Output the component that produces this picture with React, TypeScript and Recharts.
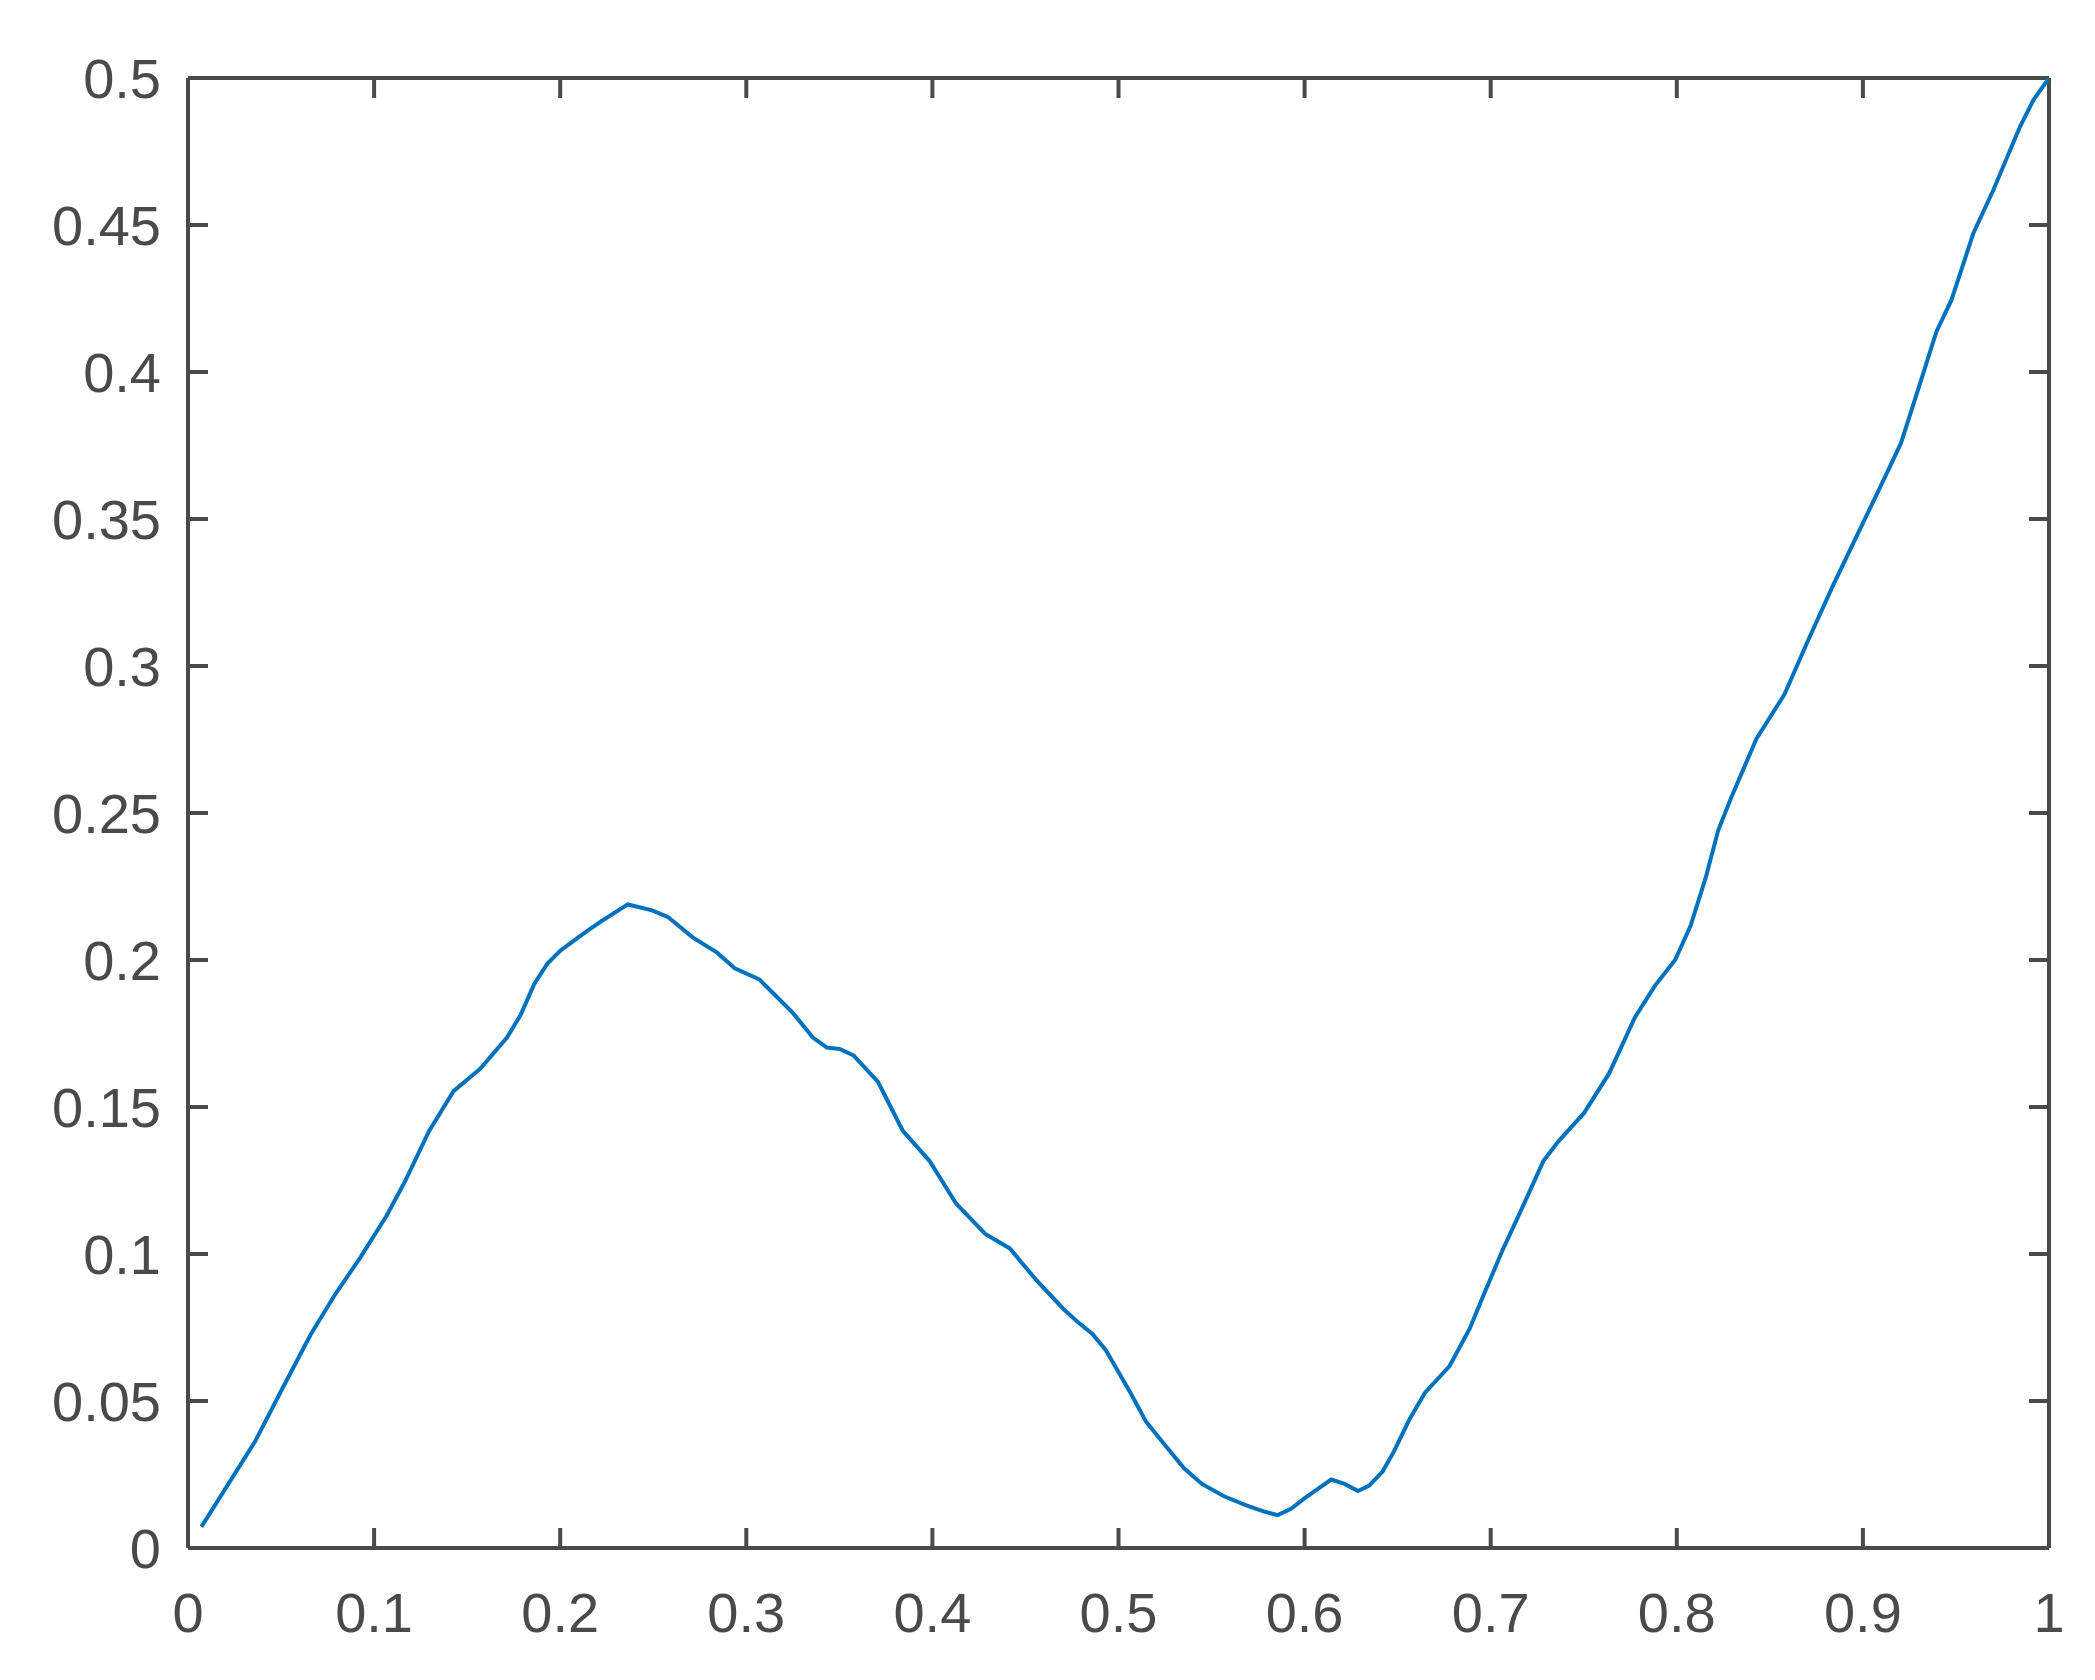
import { Line, LineChart, ReferenceLine, XAxis, YAxis } from "recharts";

const X_VALUES = [
  0.0072, 0.036, 0.0515, 0.066, 0.0791, 0.0923, 0.1067, 0.1163, 0.1295, 0.1427,
  0.157, 0.1714, 0.1787, 0.186, 0.193, 0.2003, 0.2147, 0.2219, 0.2363, 0.2494,
  0.2579, 0.271, 0.2843, 0.2938, 0.307, 0.3154, 0.325, 0.3358, 0.3433, 0.3505,
  0.3577, 0.3708, 0.384, 0.3984, 0.4128, 0.4284, 0.4416, 0.456, 0.4704, 0.4776,
  0.486, 0.4932, 0.5064, 0.5148, 0.5232, 0.5351, 0.5448, 0.5567, 0.5687, 0.5783,
  0.5855, 0.5927, 0.5999, 0.6143, 0.6215, 0.6287, 0.6347, 0.6419, 0.6479, 0.6563,
  0.6647, 0.6779, 0.6887, 0.6959, 0.7065, 0.7147, 0.7283, 0.7365, 0.7501, 0.7637,
  0.7774, 0.7883, 0.7991, 0.8074, 0.8155, 0.8223, 0.8291, 0.8428, 0.8578, 0.87,
  0.8836, 0.9, 0.9082, 0.9204, 0.93, 0.9395, 0.9476, 0.9593, 0.9701, 0.9844,
  0.9916, 1.0,
];
const Y_VALUES = [
  0.0072, 0.0362, 0.0552, 0.0727, 0.0863, 0.0985, 0.113, 0.1243, 0.1418, 0.1554,
  0.163, 0.1736, 0.1813, 0.1918, 0.1987, 0.2033, 0.21, 0.2131, 0.2189, 0.2169,
  0.2146, 0.2078, 0.2025, 0.1972, 0.1934, 0.1881, 0.182, 0.1736, 0.1702, 0.1697,
  0.1675, 0.1585, 0.142, 0.1317, 0.1171, 0.1068, 0.1019, 0.091, 0.0813, 0.0771,
  0.0728, 0.0673, 0.0528, 0.043, 0.0364, 0.0272, 0.0218, 0.0176, 0.0145, 0.0124,
  0.0112, 0.0133, 0.0169, 0.0233, 0.0218, 0.0194, 0.0212, 0.026, 0.0327, 0.0437,
  0.0528, 0.0619, 0.0746, 0.0856, 0.1015, 0.1126, 0.1316, 0.1384, 0.1479, 0.1615,
  0.1804, 0.1913, 0.2, 0.2116, 0.2279, 0.2442, 0.255, 0.2753, 0.2903, 0.3079,
  0.3269, 0.3486, 0.3594, 0.3757, 0.3947, 0.4137, 0.4245, 0.4471, 0.4619, 0.4834,
  0.4925, 0.5,
];

const X_TICKS = [0, 0.1, 0.2, 0.3, 0.4, 0.5, 0.6, 0.7, 0.8, 0.9, 1];
const Y_TICKS = [0, 0.05, 0.1, 0.15, 0.2, 0.25, 0.3, 0.35, 0.4, 0.45, 0.5];

const data = X_VALUES.map((x, i) => ({ x, y: Y_VALUES[i] }));

const AXIS = "#4a4a4a";
const AXIS_W = 4;
const TICK_LEN = 20;
const tickFont = {
  fontFamily: "'Liberation Sans', Arial, Helvetica, sans-serif",
  fontSize: 56,
  fill: AXIS,
};
const fmt = (v: number) => String(Number(v.toFixed(2)));

// MATLAB-style inward ticks on both ends of a reference line
const vTicks = (p: any) => {
  const top = Math.min(p.y1, p.y2);
  const bot = Math.max(p.y1, p.y2);
  return (
    <g>
      <line x1={p.x1} x2={p.x1} y1={bot} y2={bot - TICK_LEN} stroke={AXIS} strokeWidth={AXIS_W} />
      <line x1={p.x1} x2={p.x1} y1={top} y2={top + TICK_LEN} stroke={AXIS} strokeWidth={AXIS_W} />
    </g>
  );
};
const hTicks = (p: any) => {
  const left = Math.min(p.x1, p.x2);
  const right = Math.max(p.x1, p.x2);
  return (
    <g>
      <line y1={p.y1} y2={p.y1} x1={left} x2={left + TICK_LEN} stroke={AXIS} strokeWidth={AXIS_W} />
      <line y1={p.y1} y2={p.y1} x1={right} x2={right - TICK_LEN} stroke={AXIS} strokeWidth={AXIS_W} />
    </g>
  );
};

export default function App() {
  return (
    <div style={{ width: 2079, height: 1664, background: "#fff" }}>
      <LineChart
        width={2079}
        height={1664}
        data={data}
        margin={{ top: 70, right: 38, bottom: 24, left: 0 }}
      >
        <XAxis
          dataKey="x"
          type="number"
          domain={[0, 1]}
          ticks={X_TICKS}
          allowDataOverflow
          tickFormatter={fmt}
          height={100}
          tick={tickFont}
          tickLine={false}
          tickSize={0}
          tickMargin={44}
          axisLine={{ stroke: AXIS, strokeWidth: AXIS_W }}
        />
        <YAxis
          type="number"
          domain={[0, 0.5]}
          ticks={Y_TICKS}
          allowDataOverflow
          tickFormatter={fmt}
          width={180}
          tick={tickFont}
          tickLine={false}
          tickSize={0}
          tickMargin={27}
          axisLine={{ stroke: AXIS, strokeWidth: AXIS_W }}
        />
        {X_TICKS.map((t) => (
          <ReferenceLine key={`xt${t}`} x={t} shape={vTicks} />
        ))}
        {Y_TICKS.map((t) => (
          <ReferenceLine key={`yt${t}`} y={t} shape={hTicks} />
        ))}
        <ReferenceLine x={1} stroke={AXIS} strokeWidth={AXIS_W} />
        <ReferenceLine y={0.5} stroke={AXIS} strokeWidth={AXIS_W} />
        <Line
          type="linear"
          dataKey="y"
          stroke="#0072BD"
          strokeWidth={4}
          dot={false}
          isAnimationActive={false}
        />
      </LineChart>
    </div>
  );
}
